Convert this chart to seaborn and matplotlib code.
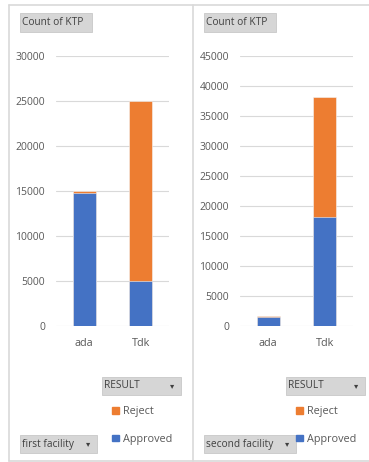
import pandas as pd
import matplotlib.pyplot as plt
import matplotlib.patches as mpatches
from matplotlib.lines import Line2D
import seaborn as sns

# values
sites = ["ada", "Tdk"]
first_approved = [14800, 5050]
first_reject = [150, 19950]
second_approved = [1550, 18100]
second_reject = [170, 20100]

first_ticks = [0, 5000, 10000, 15000, 20000, 25000, 30000]
second_ticks = [0, 5000, 10000, 15000, 20000, 25000, 30000, 35000, 40000, 45000]

BLUE = "#4472C4"
ORANGE = "#ED7D31"
GRID = "#d9d9d9"
TXT = "#595959"

W, H = 369, 462

sns.set_theme(style="white")
plt.rcParams["font.family"] = ["Open Sans", "DejaVu Sans"]

fig = plt.figure(figsize=(W / 100, H / 100), dpi=100)


def px(x, y):
    return x / W, 1 - y / H


def button(x, y, w, h, label, arrow=False):
    fx, fy = px(x, y + h)
    fig.add_artist(mpatches.Rectangle((fx, fy), w / W, h / H, transform=fig.transFigure,
                                      facecolor="#d6d6d6", edgecolor="#c8c8c8", lw=0.6))
    tx, ty = px(x + 2, y + h / 2)
    fig.text(tx, ty, label, fontsize=7.3, color="#404040", va="center", ha="left")
    if arrow:
        ax_, ay_ = px(x + w - 9, y + h / 2)
        fig.text(ax_, ay_, "▾", fontsize=6, color="#404040", va="center", ha="center",
                 family="DejaVu Sans")


def panel(left, approved, reject, ticks, facility):
    df = pd.DataFrame({"site": sites, "Approved": approved, "Reject": reject})
    df["total"] = df["Approved"] + df["Reject"]

    x0, y0 = px(left, 326)
    ax = fig.add_axes([x0, y0, 113 / W, 270 / H])
    sns.barplot(data=df, x="site", y="total", color=ORANGE, width=0.41,
                saturation=1, ax=ax, zorder=2, edgecolor="#f4f4f4", linewidth=0.4)
    sns.barplot(data=df, x="site", y="Approved", color=BLUE, width=0.41,
                saturation=1, ax=ax, zorder=3, edgecolor="#f4f4f4", linewidth=0.4)
    ax.set_ylim(0, ticks[-1])
    ax.set_xlim(-0.5, 1.5)
    ax.set_yticks(ticks)
    ax.grid(axis="y", color=GRID, lw=0.8, zorder=0)
    ax.set_axisbelow(True)
    for s in ax.spines.values():
        s.set_visible(False)
    ax.tick_params(axis="y", length=0, pad=8, labelsize=7.5, labelcolor=TXT)
    ax.tick_params(axis="x", length=0, pad=9, labelsize=7.8, labelcolor=TXT)
    ax.set_xlabel("")
    ax.set_ylabel("")

    # legend
    bx = left + 56
    handles = [mpatches.Patch(color=ORANGE, label="Reject"),
               mpatches.Patch(color=BLUE, label="Approved")]
    lx, ly = px(bx, 406)
    fig.legend(handles=handles, loc="upper left", bbox_to_anchor=(lx, ly),
               frameon=False, fontsize=7.8, labelcolor=TXT, handlelength=0.6,
               handleheight=0.6, handletextpad=0.4, labelspacing=1.55,
               borderpad=0, borderaxespad=0)

    button(left - 36, 13, 72, 19, "Count of KTP")
    button(left + 46, 377, 79, 18, "RESULT", arrow=True)
    button(left - 36, 435, 77 if facility == "first facility" else 92, 18, facility, arrow=True)
    return ax


panel(56, first_approved, first_reject, first_ticks, "first facility")
panel(240, second_approved, second_reject, second_ticks, "second facility")

# pivot-chart frames
for xa, ya, xb, yb in [(9, 5, 369, 5), (9, 5, 9, 461), (9, 461, 369, 461), (193, 5, 193, 461)]:
    a = px(xa, ya)
    b = px(xb, yb)
    fig.add_artist(Line2D([a[0], b[0]], [a[1], b[1]], transform=fig.transFigure,
                          color="#d9d9d9", lw=1.2))

fig.savefig("out.png", dpi=100)
